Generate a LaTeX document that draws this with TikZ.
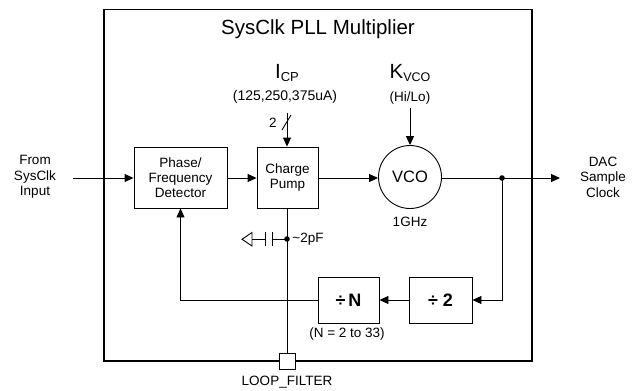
\documentclass[tikz,border=0pt]{standalone}
\usepackage{fontspec}
\setmainfont{Liberation Sans}
\usetikzlibrary{arrows.meta}
\begin{document}
\begin{tikzpicture}[x=1pt,y=-1pt,line width=0.9pt,
  >={Triangle[length=9pt,width=8pt]},
  blk/.style={draw,inner sep=0pt,align=center,font=\fontsize{13.5}{15}\selectfont},
  lbl/.style={inner sep=0pt,align=center,font=\fontsize{13.5}{15.5}\selectfont},
  big/.style={inner sep=0pt,font=\fontsize{20.5}{22}\selectfont},
  divbox/.style={draw,inner sep=0pt,minimum height=46pt,font=\fontsize{18}{18}\bfseries\selectfont}]
\useasboundingbox (0,0) rectangle (633,391);
% outer box
\node[draw,line width=1.1pt,minimum width=428pt,minimum height=351.5pt,inner sep=0pt] (outer) at (318,185.25) {};
\node[big] (title) at (318,29) {SysClk PLL Multiplier};
% blocks
\node[blk,minimum width=93pt,minimum height=61pt] (pfd) at (180.5,177.5) {Phase/\\Frequency\\Detector};
\node[blk,minimum width=61pt,minimum height=61pt] (cp) at (287.5,177.5) {Charge\\Pump};
\node[draw,circle,minimum size=63pt,inner sep=0pt,font=\fontsize{16.5}{16}\selectfont] (vco) at (410,177) {VCO};
\node[divbox,minimum width=63pt] (div2) at (440.5,300) {÷ 2};
\node[divbox,minimum width=61pt] (divN) at (348.5,300) {÷\,N};
\node[draw,fill=white,minimum size=16pt,inner sep=0pt,line width=0.9pt] (pad) at (287,361) {};
% labels
\node[lbl] (inlbl) at (35,177) {From\\SysClk\\Input};
\node[lbl] (outlbl) at (603,177) {DAC\\Sample\\Clock};
\node[big] (icp) at (287,73) {I\raisebox{-3pt}{\fontsize{13}{13}\selectfont CP}};
\node[lbl,font=\fontsize{14}{14}\selectfont] (icpr) at (285,97) {(125,250,375uA)};
\node[big] (kvco) at (410,73) {K\raisebox{-3pt}{\fontsize{12.5}{12}\selectfont VCO}};
\node[lbl,font=\fontsize{13.5}{13}\selectfont] (hilo) at (410,98) {(Hi/Lo)};
\node[lbl] (ghz) at (410,222) {1GHz};
\node[lbl] (two) at (273,123) {2};
\node[lbl,anchor=west] (cval) at (292,239) {\textasciitilde2pF};
\node[lbl] (nrange) at (347,334) {(N = 2 to 33)};
\node[lbl] (lf) at (287,382) {LOOP\_FILTER};
% coordinates
\coordinate (in) at (73,178);
\coordinate (out) at (560,178);
\coordinate (tap) at (502,178);
\coordinate (icpin) at (287,113);
\coordinate (kin) at (410,108);
\coordinate (capn) at (287,239);
% connectors
\draw[->] (in) -- (pfd.west |- in);
\draw[->] (pfd.east |- in) -- (cp.west |- in);
\draw[->] (cp.east |- in) -- (vco.west |- in);
\draw[->] (vco.east |- in) -- (out);
\fill (tap) circle (2.8pt);
\draw[->] (tap) |- (div2.east);
\draw[->] (div2.west) -- (divN.east);
\draw[->] (divN.west) -| (pfd.south);
\draw[->] (icpin) -- (cp.north -| icpin);
\draw[->] (kin) -- (vco.north);
\draw (cp.south -| pad) -- (pad.north);
\draw (282,130) -- (291,115);
% capacitor to ground
\fill (capn) circle (2.8pt);
\draw (capn) -- (272,239);
\draw (272,232) -- (272,246);
\draw (265,232) -- (265,246);
\draw (265,239) -- (252,239);
\draw[line join=miter] (252,232.5) -- (252,246) -- (242,239.25) -- cycle;
\end{tikzpicture}
\end{document}
